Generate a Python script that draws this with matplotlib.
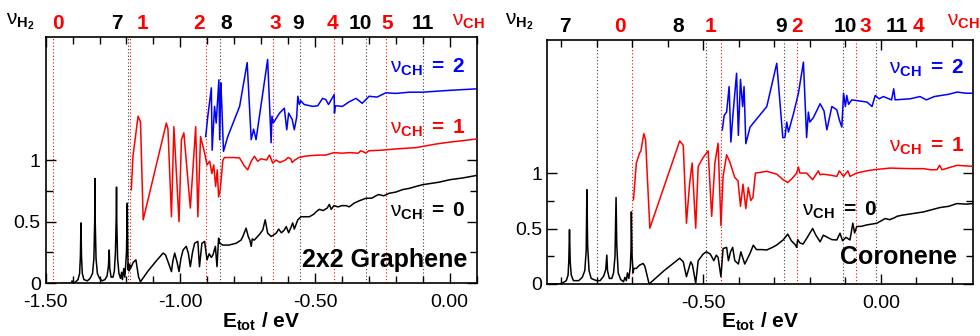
import matplotlib
matplotlib.use("Agg")
import matplotlib.pyplot as plt
import matplotlib.transforms as mtransforms
from matplotlib.ticker import MultipleLocator, FixedLocator, FixedFormatter, FormatStrFormatter

plt.rcParams["font.family"] = ["Liberation Sans", "DejaVu Sans"]
plt.rcParams["mathtext.fontset"] = "custom"
plt.rcParams["mathtext.rm"] = "Liberation Sans"
plt.rcParams["mathtext.it"] = "Liberation Sans"
plt.rcParams["mathtext.bf"] = "Liberation Sans:bold"
plt.rcParams["axes.unicode_minus"] = False

# ---------------- 2x2 graphene (left panel) ----------------
gr_e0 = [-1.440, -1.405, -1.402, -1.399, -1.390, -1.380, -1.374, -1.371, -1.369, -1.367, -1.364, -1.358,
         -1.345, -1.335, -1.326, -1.321, -1.318, -1.317, -1.316, -1.313, -1.308, -1.300, -1.290, -1.280,
         -1.272, -1.267, -1.264, -1.262, -1.257, -1.250, -1.245, -1.241, -1.238, -1.237, -1.236, -1.233,
         -1.228, -1.222, -1.218, -1.215, -1.210, -1.206, -1.203, -1.200, -1.197, -1.196, -1.194, -1.192,
         -1.190, -1.188, -1.185, -1.175, -1.165, -1.160, -1.155, -1.148, -1.120, -1.090, -1.064, -1.055,
         -1.045, -1.033, -1.028, -1.021, -1.012, -1.005, -0.998, -0.990, -0.978, -0.970, -0.963, -0.955,
         -0.947, -0.935, -0.929, -0.920, -0.910, -0.901, -0.893, -0.885, -0.879, -0.870, -0.864, -0.858,
         -0.854, -0.842, -0.820, -0.793, -0.775, -0.768, -0.756, -0.748, -0.742, -0.737, -0.733, -0.726,
         -0.719, -0.705, -0.694, -0.685, -0.676, -0.663, -0.655, -0.644, -0.635, -0.625, -0.615, -0.607,
         -0.598, -0.590, -0.583, -0.577, -0.570, -0.564, -0.552, -0.530, -0.521, -0.505, -0.496, -0.484,
         -0.470, -0.455, -0.447, -0.440, -0.430, -0.415, -0.400, -0.385, -0.373, -0.355, -0.335, -0.311,
         -0.290, -0.265, -0.245, -0.225, -0.200, -0.175, -0.150, -0.126, -0.100, -0.070, -0.040, 0.000,
         0.050, 0.100]
gr_y0 = [0.00, 0.00, 0.02, 0.00, 0.01, 0.03, 0.08, 0.22, 0.49, 0.22, 0.08, 0.03,
         0.02, 0.04, 0.08, 0.20, 0.50, 0.85, 0.50, 0.20, 0.08, 0.04, 0.02, 0.03,
         0.06, 0.14, 0.27, 0.12, 0.05, 0.05, 0.10, 0.25, 0.55, 0.78, 0.50, 0.20,
         0.08, 0.04, 0.09, 0.03, 0.12, 0.05, 0.15, 0.25, 0.65, 0.40, 0.11, 0.16,
         0.10, 0.15, 0.12, 0.17, 0.19, 0.12, 0.05, 0.013, 0.10, 0.18, 0.245, 0.23,
         0.17, 0.095, 0.18, 0.245, 0.17, 0.095, 0.20, 0.27, 0.30, 0.24, 0.135, 0.25,
         0.325, 0.34, 0.135, 0.325, 0.34, 0.19, 0.24, 0.21, 0.23, 0.30, 0.135, 0.366,
         0.325, 0.31, 0.31, 0.325, 0.35, 0.38, 0.447, 0.38, 0.35, 0.30, 0.36, 0.35,
         0.366, 0.40, 0.433, 0.515, 0.407, 0.38, 0.39, 0.407, 0.44, 0.41, 0.43, 0.46,
         0.41, 0.45, 0.49, 0.44, 0.48, 0.515, 0.54, 0.54, 0.54, 0.56, 0.58, 0.60,
         0.59, 0.61, 0.64, 0.60, 0.63, 0.62, 0.63, 0.63, 0.62, 0.65, 0.67, 0.69,
         0.69, 0.72, 0.71, 0.73, 0.74, 0.76, 0.77, 0.785, 0.80, 0.81, 0.82, 0.84,
         0.855, 0.875]

gr_e1 = [-1.182, -1.176, -1.157, -1.148, -1.138, -1.052, -1.046, -1.033, -1.024, -1.005, -0.996, -0.987,
         -0.963, -0.943, -0.935, -0.925, -0.910, -0.901, -0.891, -0.883, -0.876, -0.869, -0.863, -0.858,
         -0.852, -0.842, -0.836, -0.800, -0.780, -0.762, -0.750, -0.737, -0.725, -0.713, -0.700, -0.680,
         -0.669, -0.657, -0.645, -0.630, -0.610, -0.600, -0.590, -0.585, -0.575, -0.560, -0.540, -0.520,
         -0.484, -0.460, -0.430, -0.400, -0.370, -0.340, -0.330, -0.311, -0.300, -0.250, -0.200, -0.126,
         -0.050, 0.000, 0.100]
gr_y1 = [0.759, 1.03, 1.355, 1.31, 0.515, 1.30, 1.25, 0.54, 1.27, 0.50, 1.165, 1.22,
         0.61, 1.27, 0.54, 1.19, 1.057, 0.96, 0.99, 0.89, 0.96, 0.785, 0.92, 0.70,
         0.76, 1.00, 1.02, 1.02, 1.016, 0.95, 0.92, 0.99, 1.03, 0.99, 1.01, 1.00,
         1.04, 0.975, 1.00, 0.98, 1.00, 1.02, 1.01, 0.98, 1.00, 1.02, 1.03, 1.035,
         1.04, 1.04, 1.06, 1.055, 1.06, 1.055, 1.075, 1.057, 1.075, 1.08, 1.09, 1.10,
         1.13, 1.145, 1.17]

gr_e2 = [-0.906, -0.898, -0.885, -0.882, -0.873, -0.867, -0.857, -0.854, -0.850, -0.846, -0.840, -0.824,
         -0.780, -0.752, -0.737, -0.728, -0.719, -0.676, -0.663, -0.660, -0.655, -0.632, -0.614, -0.605,
         -0.598, -0.585, -0.577, -0.568, -0.564, -0.558, -0.553, -0.540, -0.509, -0.490, -0.472, -0.460,
         -0.450, -0.429, -0.428, -0.425, -0.398, -0.375, -0.348, -0.325, -0.299, -0.270, -0.237, -0.200,
         -0.150, -0.101, 0.000, 0.100]
gr_y2 = [1.19, 1.355, 1.585, 1.08, 1.435, 1.30, 1.65, 1.165, 1.626, 1.44, 1.07, 1.19,
         1.435, 1.79, 1.165, 1.25, 1.165, 1.815, 1.14, 1.355, 1.30, 1.38, 1.42, 1.245,
         1.38, 1.33, 1.245, 1.35, 1.517, 1.45, 1.48, 1.45, 1.435, 1.44, 1.50, 1.49,
         1.45, 1.53, 1.38, 1.44, 1.435, 1.47, 1.50, 1.46, 1.517, 1.51, 1.545, 1.54,
         1.55, 1.55, 1.565, 1.577]

gr_h2_thresh = [-1.196, -0.854, -0.554, -0.311, -0.101]
gr_ch_thresh = [-1.472, -1.188, -0.906, -0.655, -0.429, -0.237]
gr_top_text = ["0", "7", "1", "2", "8", "3", "9", "4", "10", "5", "11"]
gr_top_pos = [-1.453, -1.235, -1.141, -0.931, -0.830, -0.647, -0.562, -0.435, -0.333, -0.231, -0.101]
gr_top_red = [True, False, True, True, False, True, False, True, False, True, False]

# ---------------- coronene (right panel) ----------------
co_e0 = [-0.940, -0.905, -0.895, -0.885, -0.880, -0.878, -0.876, -0.874, -0.871, -0.865, -0.850, -0.840,
         -0.833, -0.829, -0.827, -0.825, -0.821, -0.815, -0.800, -0.790, -0.780, -0.774, -0.771, -0.769,
         -0.764, -0.757, -0.752, -0.748, -0.745, -0.743, -0.739, -0.732, -0.724, -0.720, -0.716, -0.713,
         -0.709, -0.705, -0.703, -0.702, -0.700, -0.697, -0.695, -0.688, -0.679, -0.669, -0.664, -0.658,
         -0.652, -0.610, -0.566, -0.556, -0.547, -0.535, -0.530, -0.521, -0.514, -0.500, -0.491, -0.480,
         -0.470, -0.463, -0.458, -0.450, -0.444, -0.434, -0.429, -0.423, -0.417, -0.411, -0.401, -0.394,
         -0.383, -0.368, -0.359, -0.350, -0.335, -0.321, -0.305, -0.293, -0.275, -0.262, -0.252, -0.240,
         -0.237, -0.234, -0.228, -0.219, -0.209, -0.192, -0.183, -0.171, -0.162, -0.150, -0.138, -0.124,
         -0.115, -0.108, -0.098, -0.087, -0.079, -0.074, -0.068, -0.055, -0.039, -0.011, 0.012, 0.025,
         0.040, 0.045, 0.059, 0.080, 0.120, 0.167, 0.190, 0.214, 0.240, 0.261]
co_y0 = [0.00, 0.00, 0.01, 0.03, 0.08, 0.20, 0.49, 0.20, 0.08, 0.03, 0.03, 0.06,
         0.12, 0.30, 0.85, 0.35, 0.12, 0.05, 0.03, 0.03, 0.07, 0.13, 0.26, 0.12,
         0.05, 0.05, 0.10, 0.25, 0.78, 0.35, 0.10, 0.04, 0.02, 0.06, 0.03, 0.10,
         0.05, 0.15, 0.30, 0.65, 0.25, 0.10, 0.14, 0.14, 0.17, 0.185, 0.16, 0.08,
         0.00, 0.12, 0.232, 0.20, 0.066, 0.20, 0.17, 0.006, 0.21, 0.27, 0.29, 0.27,
         0.21, 0.26, 0.24, 0.066, 0.32, 0.33, 0.21, 0.29, 0.33, 0.21, 0.18, 0.29,
         0.18, 0.277, 0.35, 0.31, 0.31, 0.307, 0.33, 0.352, 0.397, 0.45, 0.39, 0.35,
         0.33, 0.40, 0.37, 0.36, 0.41, 0.50, 0.44, 0.38, 0.44, 0.42, 0.40, 0.397,
         0.458, 0.39, 0.42, 0.397, 0.548, 0.46, 0.518, 0.52, 0.533, 0.548, 0.59, 0.58,
         0.60, 0.61, 0.62, 0.63, 0.65, 0.69, 0.70, 0.725, 0.72, 0.725]

co_e1 = [-0.696, -0.688, -0.679, -0.675, -0.667, -0.662, -0.650, -0.566, -0.556, -0.547, -0.538, -0.531,
         -0.521, -0.514, -0.500, -0.486, -0.476, -0.467, -0.458, -0.450, -0.444, -0.434, -0.425, -0.411,
         -0.402, -0.395, -0.388, -0.380, -0.373, -0.366, -0.360, -0.353, -0.321, -0.293, -0.275, -0.262,
         -0.250, -0.237, -0.232, -0.228, -0.209, -0.192, -0.176, -0.171, -0.162, -0.140, -0.124, -0.117,
         -0.105, -0.093, -0.087, -0.068, -0.040, -0.021, 0.026, 0.080, 0.120, 0.140, 0.158, 0.165,
         0.172, 0.214, 0.261]
co_y1 = [0.76, 1.09, 1.18, 1.20, 1.355, 1.30, 0.503, 1.29, 1.25, 0.548, 0.91, 1.09,
         0.503, 1.06, 1.14, 1.20, 0.61, 1.09, 1.27, 0.527, 0.97, 1.165, 1.10, 0.96,
         0.93, 0.70, 0.90, 0.68, 0.87, 0.753, 0.78, 1.00, 1.016, 0.99, 0.94, 0.915,
         0.95, 1.00, 1.054, 1.00, 1.00, 0.94, 1.02, 0.985, 0.99, 0.98, 0.97, 1.02,
         0.97, 1.02, 0.97, 1.00, 1.02, 1.03, 1.045, 1.04, 1.04, 1.03, 1.03, 1.07,
         1.03, 1.07, 1.06]

co_e2 = [-0.446, -0.441, -0.434, -0.427, -0.422, -0.416, -0.406, -0.401, -0.395, -0.389, -0.385, -0.380,
         -0.368, -0.321, -0.293, -0.283, -0.276, -0.270, -0.265, -0.260, -0.246, -0.232, -0.218, -0.209,
         -0.204, -0.200, -0.190, -0.171, -0.160, -0.152, -0.138, -0.124, -0.117, -0.110, -0.105, -0.100,
         -0.096, -0.091, -0.082, -0.060, -0.039, -0.025, -0.016, -0.005, 0.007, 0.030, 0.036, 0.040,
         0.083, 0.110, 0.128, 0.150, 0.190, 0.214, 0.240, 0.261]
co_y2 = [1.39, 1.52, 1.55, 1.78, 1.28, 1.535, 1.90, 1.34, 1.845, 1.60, 1.78, 1.265,
         1.415, 1.60, 1.99, 1.60, 1.32, 1.32, 1.46, 1.37, 1.535, 1.72, 2.00, 1.32,
         1.55, 1.46, 1.50, 1.625, 1.56, 1.39, 1.60, 1.57, 1.48, 1.415, 1.72, 1.60,
         1.70, 1.62, 1.66, 1.65, 1.64, 1.60, 1.70, 1.67, 1.69, 1.66, 1.76, 1.66,
         1.67, 1.69, 1.66, 1.69, 1.71, 1.73, 1.72, 1.72]

co_h2_thresh = [-0.800, -0.4925, -0.272, -0.107, -0.013]
co_ch_thresh = [-0.699, -0.450, -0.236, -0.070]
co_top_text = ["7", "0", "8", "1", "9", "2", "10", "3", "11", "4"]
co_top_pos = [-0.890, -0.733, -0.569, -0.478, -0.282, -0.237, -0.101, -0.044, 0.045, 0.106]
co_top_red = [False, True, False, True, False, True, False, True, False, True]


def ch_label(n):
    return r"$\nu_{\mathbf{CH}}\mathbf{\ =\ %d}$" % n


def draw_panel(ax, curves, h2_lines, ch_lines, top_text, top_pos, top_red,
               xlim, ylim, xmajor, name, label_pos):
    for e in h2_lines:
        ax.axvline(e, color="0.25", ls=(0, (1, 2)), lw=0.8, zorder=1)
    for e in ch_lines:
        ax.axvline(e, color="red", ls=(0, (1, 2)), lw=0.8, zorder=1)

    for (xs, ys), c in zip(curves, ["black", "red", "blue"]):
        ax.plot(xs, ys, color=c, lw=1.1, zorder=3)

    ax.set_xlim(*xlim)
    ax.set_ylim(*ylim)
    ax.xaxis.set_major_locator(FixedLocator(xmajor))
    ax.xaxis.set_major_formatter(FormatStrFormatter("%.2f"))
    ax.xaxis.set_minor_locator(MultipleLocator(0.1))
    ax.yaxis.set_major_locator(FixedLocator([0, 0.5, 1]))
    ax.yaxis.set_major_formatter(FixedFormatter(["0", "0.5", "1"]))
    ax.yaxis.set_minor_locator(FixedLocator([0.25, 0.75]))
    ax.tick_params(which="both", direction="in", top=True, right=True, labelsize=14, width=1)
    ax.tick_params(which="major", length=7)
    ax.tick_params(which="minor", length=5)
    ax.tick_params(axis="x", pad=8)
    for sp in ax.spines.values():
        sp.set_linewidth(1.2)

    # vibrational quantum numbers along the top
    trans = mtransforms.blended_transform_factory(ax.transData, ax.transAxes)
    for t, x, r in zip(top_text, top_pos, top_red):
        ax.text(x, 1.055, t, transform=trans, ha="center", va="center",
                fontsize=15, fontweight="bold", color="red" if r else "black", clip_on=False)

    for n, c in zip([2, 1, 0], ["blue", "red", "black"]):
        x, y = label_pos[n]
        ax.text(x, y, ch_label(n), transform=ax.transAxes, ha="right", va="center",
                fontsize=15, color=c)
    x, y = label_pos["name"]
    ax.text(x, y, name, transform=ax.transAxes, ha="right", va="center",
            fontsize=18, fontweight="bold")

    ax.set_xlabel(r"$\mathbf{E_{tot}}$ / eV", fontsize=15, fontweight="bold")
    ax.xaxis.label.set_va("baseline")
    ax.xaxis.set_label_coords(0.5, -0.18)


fig = plt.figure(figsize=(9.8, 3.36), dpi=100)
ax1 = fig.add_axes([0.0466, 0.1568, 0.4398, 0.7340])
ax2 = fig.add_axes([0.5579, 0.1548, 0.4353, 0.7262])

draw_panel(ax1, [(gr_e0, gr_y0), (gr_e1, gr_y1), (gr_e2, gr_y2)],
           gr_h2_thresh, gr_ch_thresh, gr_top_text, gr_top_pos, gr_top_red,
           (-1.5, 0.1), (0, 2.0), [-1.5, -1.0, -0.5, 0.0], "2x2 Graphene",
           {2: (0.975, 0.875), 1: (0.975, 0.63), 0: (0.975, 0.29), "name": (0.978, 0.094)})
draw_panel(ax2, [(co_e0, co_y0), (co_e1, co_y1), (co_e2, co_y2)],
           co_h2_thresh, co_ch_thresh, co_top_text, co_top_pos, co_top_red,
           (-0.94, 0.26), (0, 2.2), [-0.5, 0.0], "Coronene",
           {2: (0.98, 0.885), 1: (0.98, 0.565), 0: (0.775, 0.30), "name": (0.962, 0.111)})

for x in [20, 519]:
    fig.text(x / 980, 1 - 22 / 336, r"$\nu_{\mathbf{H_2}}$", fontsize=15, ha="center", va="center")
for x in [468, 963]:
    fig.text(x / 980, 1 - 22 / 336, r"$\nu_{\mathbf{CH}}$", fontsize=15, ha="center", va="center",
             color="red")

fig.savefig("out.png", dpi=100)
